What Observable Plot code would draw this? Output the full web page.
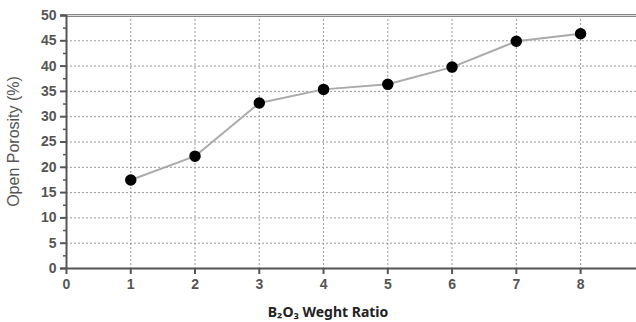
<!DOCTYPE html>
<html>
<head>
<meta charset="utf-8">
<script src="https://cdn.jsdelivr.net/npm/d3@7"></script>
<script src="https://cdn.jsdelivr.net/npm/@observablehq/plot@0.6"></script>
<style>
  html, body { margin: 0; padding: 0; background: #fff; }
</style>
</head>
<body>
<div id="chart"></div>
<script>
const ratios = [1, 2, 3, 4, 5, 6, 7, 8];
const porosity = [17.5, 22.2, 32.7, 35.4, 36.4, 39.8, 44.9, 46.4];
const xTicks = [0, 1, 2, 3, 4, 5, 6, 7, 8];
const yTicks = [0, 5, 10, 15, 20, 25, 30, 35, 40, 45, 50];
const yMinorTicks = d3.range(0, 50.01, 2.5).filter(v => v % 5 !== 0);
const xLabel = "B₂O₃ Weght Ratio";
const yLabel = "Open Porosity (%)";

const data = ratios.map((r, i) => ({ratio: r, porosity: porosity[i]}));
const arial = "'Liberation Sans', Arial, sans-serif";

const chart = Plot.plot({
  width: 636,
  height: 322,
  marginLeft: 66,
  marginRight: 0,
  marginTop: 15,
  marginBottom: 54,
  style: {fontFamily: arial, background: "#fff"},
  x: {domain: [0, 8.87]},
  y: {domain: [0, 50]},
  marks: [
    Plot.gridX(xTicks.filter(d => d > 0), {stroke: "#999", strokeOpacity: 1, strokeDasharray: "2,2"}),
    Plot.gridY(yTicks.filter(d => d > 0 && d < 50), {stroke: "#999", strokeOpacity: 1, strokeDasharray: "2,2"}),
    Plot.ruleY([50], {stroke: "#888", strokeWidth: 3, x1: -0.09, x2: 8.87}),
    Plot.ruleY([50], {stroke: "#ddd", strokeWidth: 1, x1: 0, x2: 8.87}),
    Plot.ruleY([0], {stroke: "#555", strokeWidth: 2, x1: -0.09, x2: 8.87}),
    Plot.ruleX([0], {stroke: "#555", strokeWidth: 2}),
    Plot.axisY(yTicks, {tickSize: 6, tickPadding: 4, stroke: "#555", strokeWidth: 2, fill: "#555", fontSize: 14, fontWeight: "bold", fontFamily: arial, label: null}),
    Plot.axisY(yMinorTicks, {tickSize: 3, text: null, stroke: "#555", strokeWidth: 1.5, label: null}),
    Plot.axisX(xTicks, {tickSize: 6, tickPadding: 5, stroke: "#555", strokeWidth: 2, fill: "#555", fontSize: 14, fontWeight: "bold", fontFamily: arial, label: null}),
    Plot.line(data, {x: "ratio", y: "porosity", stroke: "#aaa", strokeWidth: 2}),
    Plot.dot(data, {x: "ratio", y: "porosity", r: 5, fill: "#000", stroke: "#000"}),
    Plot.text([xLabel], {x: 4.07, y: -8.6, text: d => d, fontSize: 14, fontWeight: "bold", fill: "#222", fontFamily: "'Noto Sans', sans-serif"}),
    Plot.text([yLabel], {x: -0.82, y: 25.1, text: d => d, rotate: -90, fontSize: 16, fill: "#555", fontFamily: arial})
  ]
});
document.getElementById("chart").appendChild(chart);
</script>
</body>
</html>
